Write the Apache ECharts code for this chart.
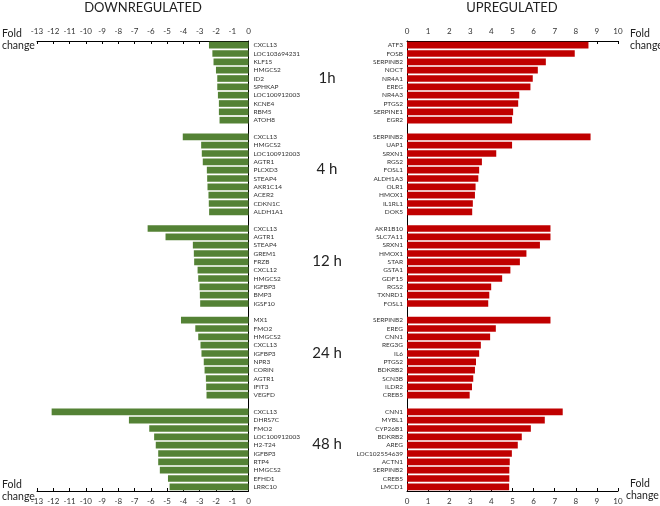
<!DOCTYPE html>
<html>
<head>
<meta charset="utf-8">
<script src="https://cdn.jsdelivr.net/npm/echarts@6/dist/echarts.min.js"></script>
<style>html,body{margin:0;padding:0;background:#fff}#c{width:660px;height:506px}</style>
</head>
<body>
<div id="c"></div>
<script>
const groupNames = ['1h', '4 h', '12 h', '24 h', '48 h'];

const downGenes1h = ['CXCL13','LOC103694231','KLF15','HMGCS2','ID2','SPHKAP','LOC100912003','KCNE4','RBM5','ATOH8'];
const downVals1h  = [-2.43,-2.22,-2.15,-2.0,-1.92,-1.92,-1.88,-1.82,-1.82,-1.78];
const downGenes4h = ['CXCL13','HMGCS2','LOC100912003','AGTR1','PLCXD3','STEAP4','AKR1C14','ACER2','CDKN1C','ALDH1A1'];
const downVals4h  = [-4.04,-2.91,-2.87,-2.81,-2.56,-2.54,-2.52,-2.46,-2.44,-2.42];
const downGenes12h = ['CXCL13','AGTR1','STEAP4','GREM1','FRZB','CXCL12','HMGCS2','IGFBP3','BMP3','IGSF10'];
const downVals12h  = [-6.2,-5.1,-3.42,-3.36,-3.34,-3.13,-3.09,-3.01,-2.99,-2.97];
const downGenes24h = ['MX1','FMO2','HMGCS2','CXCL13','IGFBP3','NPR3','CORIN','AGTR1','IFIT3','VEGFD'];
const downVals24h  = [-4.15,-3.27,-3.09,-2.95,-2.89,-2.75,-2.7,-2.62,-2.6,-2.58];
const downGenes48h = ['CXCL13','DHRS7C','FMO2','LOC100912003','H2-T24','IGFBP3','RTP4','HMGCS2','EFHD1','LRRC10'];
const downVals48h  = [-12.1,-7.35,-6.1,-5.8,-5.7,-5.55,-5.55,-5.45,-4.95,-4.85];

const upGenes1h = ['ATF3','FOSB','SERPINB2','NOCT','NR4A1','EREG','NR4A3','PTGS2','SERPINE1','EGR2'];
const upVals1h  = [8.6,7.95,6.58,6.2,5.96,5.85,5.32,5.27,5.03,4.98];
const upGenes4h = ['SERPINB2','UAP1','SRXN1','RGS2','FOSL1','ALDH1A3','OLR1','HMOX1','IL1RL1','DOK5'];
const upVals4h  = [8.7,4.98,4.23,3.55,3.42,3.38,3.25,3.22,3.12,3.09];
const upGenes12h = ['AKR1B10','SLC7A11','SRXN1','HMOX1','STAR','GSTA1','GDF15','RGS2','TXNRD1','FOSL1'];
const upVals12h  = [6.8,6.8,6.3,5.66,5.35,4.9,4.51,3.99,3.9,3.85];
const upGenes24h = ['SERPINB2','EREG','CNN1','REG3G','IL6','PTGS2','BDKRB2','SCN3B','ILDR2','CREB5'];
const upVals24h  = [6.8,4.21,3.94,3.5,3.42,3.27,3.22,3.14,3.08,2.97];
const upGenes48h = ['CNN1','MYBL1','CYP26B1','BDKRB2','AREG','LOC102554639','ACTN1','SERPINB2','CREB5','LMCD1'];
const upVals48h  = [7.38,6.53,5.87,5.44,5.25,4.97,4.87,4.85,4.85,4.84];

const downTicks = {min: -13, max: 0, interval: 1};
const upTicks = {min: 0, max: 10, interval: 1};

const downGenes = [downGenes1h, downGenes4h, downGenes12h, downGenes24h, downGenes48h];
const downVals = [downVals1h, downVals4h, downVals12h, downVals24h, downVals48h];
const upGenes = [upGenes1h, upGenes4h, upGenes12h, upGenes24h, upGenes48h];
const upVals = [upVals1h, upVals4h, upVals12h, upVals24h, upVals48h];

// build category keys (with empty gap rows between groups)
const leftCats = [], rightCats = [], leftData = [], rightData = [], groupRows = [];
groupNames.forEach((g, gi) => {
  const rows = [];
  downGenes[gi].forEach((name, i) => {
    leftCats.push(gi + '_' + i + '|' + name);
    rightCats.push(gi + '_' + i + '|' + upGenes[gi][i]);
    leftData.push(downVals[gi][i]);
    rightData.push(upVals[gi][i]);
    rows.push(leftCats.length - 1);
  });
  groupRows.push(rows);
  if (gi < groupNames.length - 1) {
    leftCats.push('gap' + gi + '|');
    rightCats.push('gapr' + gi + '|');
    leftData.push('-');
    rightData.push('-');
  }
});

const FONT = 'Lato';
const catLabel = v => v.split('|')[1] || '';

function valAxis(grid, pos, t) {
  return {
    type: 'value', gridIndex: grid, position: pos, min: t.min, max: t.max, interval: t.interval,
    axisLine: {show: true, onZero: false, lineStyle: {color: '#000', width: 1}},
    axisTick: {show: true, inside: true, length: 3, lineStyle: {color: '#000'}},
    axisLabel: {fontSize: 8, color: '#333', fontFamily: FONT, margin: 6},
    splitLine: {show: false}
  };
}

const chart = echarts.init(document.getElementById('c'), null, {renderer: 'canvas'});
const option = {
  animation: false,
  backgroundColor: '#fff',
  grid: [
    {left: 37, width: 211.5, top: 41, height: 450},
    {left: 407, width: 211, top: 41, height: 450}
  ],
  xAxis: [
    valAxis(0, 'top', downTicks),
    valAxis(0, 'bottom', downTicks),
    valAxis(1, 'top', upTicks),
    valAxis(1, 'bottom', upTicks)
  ],
  yAxis: [
    {type: 'category', gridIndex: 0, position: 'right', inverse: true, data: leftCats,
     axisLine: {show: true, onZero: false, lineStyle: {color: '#000'}}, axisTick: {show: false},
     axisLabel: {interval: 0, fontSize: 6.5, color: '#333', fontFamily: FONT, margin: 5, formatter: catLabel}},
    {type: 'category', gridIndex: 1, position: 'left', inverse: true, data: rightCats,
     axisLine: {show: true, onZero: false, lineStyle: {color: '#000'}}, axisTick: {show: false},
     axisLabel: {interval: 0, fontSize: 6.5, color: '#333', fontFamily: FONT, margin: 4, formatter: catLabel}}
  ],
  series: [
    {type: 'bar', xAxisIndex: 0, yAxisIndex: 0, data: leftData, barCategoryGap: '20%',
     itemStyle: {color: '#548235'}},
    {type: 'bar', xAxisIndex: 2, yAxisIndex: 1, data: rightData, barCategoryGap: '20%',
     itemStyle: {color: '#C00000'}}
  ]
};
chart.setOption(option);

const txt = (x, y, text, size, align) => ({
  type: 'text', x: x, y: y,
  style: {text: text, fontSize: size, fontFamily: FONT, fill: '#222', textAlign: align || 'left', textVerticalAlign: 'middle'}
});
const graphics = [
  txt(143, 8, 'DOWNREGULATED', 13, 'center'),
  txt(512, 8, 'UPREGULATED', 13, 'center'),
  txt(2, 34, 'Fold', 10.5), txt(2, 46, 'change', 10.5),
  txt(2, 485, 'Fold', 10.5), txt(2, 497, 'change', 10.5),
  txt(630, 34, 'Fold', 10.5), txt(630, 46, 'change', 10.5),
  txt(630, 484, 'Fold', 10.5), txt(626, 496, 'change', 10.5)
];
groupRows.forEach((rows, gi) => {
  const a = chart.convertToPixel({yAxisIndex: 0}, leftCats[rows[0]]);
  const b = chart.convertToPixel({yAxisIndex: 0}, leftCats[rows[rows.length - 1]]);
  graphics.push(txt(327, (a + b) / 2 - 5, groupNames[gi], 15, 'center'));
});
chart.setOption({graphic: graphics});
</script>
</body>
</html>
